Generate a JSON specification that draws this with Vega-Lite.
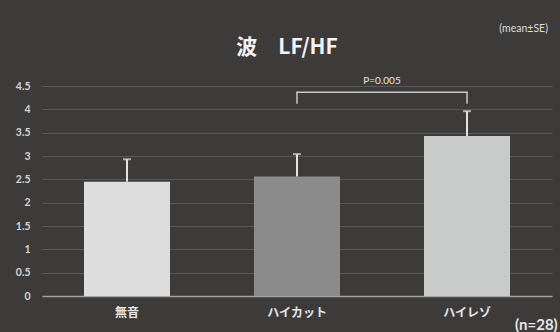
{
  "$schema": "https://vega.github.io/schema/vega-lite/v6.json",
  "width": 510,
  "height": 210,
  "autosize": "none",
  "padding": {"left": 42, "top": 86, "right": 8, "bottom": 36},
  "background": "#3d3b3a",
  "config": {
    "view": {"stroke": null},
    "axisY": {
      "title": null,
      "labelFont": "Lato",
      "labelFontSize": 10.5,
      "labelFontWeight": "bold",
      "labelColor": "#d2d2d2",
      "labelPadding": 12,
      "ticks": false,
      "domain": false,
      "gridColor": "#5a5857",
      "gridWidth": 1
    }
  },
  "datasets": {
    "bars": [
      {"group": "無音", "mean": 2.45, "upper": 2.93},
      {"group": "ハイカット", "mean": 2.56, "upper": 3.04},
      {"group": "ハイレゾ", "mean": 3.43, "upper": 3.96}
    ],
    "bracketH": [{"from": "ハイカット", "to": "ハイレゾ", "y": 4.365}],
    "bracketV": [
      {"group": "ハイカット", "y": 4.13, "y2": 4.365},
      {"group": "ハイレゾ", "y": 4.13, "y2": 4.365}
    ],
    "notes": [
      {"group": "ハイカット", "y": 4.6, "label": "P=0.005"}
    ],
    "titleText": [
      {"group": "ハイカット", "y": 5.31, "label": "波　LF/HF"}
    ],
    "corner": [
      {"group": "ハイレゾ", "y": 5.72, "label": "(mean±SE)"}
    ],
    "ncount": [
      {"group": "ハイレゾ", "y": -0.62, "label": "(n=28)"}
    ]
  },
  "encoding": {
    "x": {
      "field": "group",
      "type": "nominal",
      "sort": ["無音", "ハイカット", "ハイレゾ"],
      "scale": {"domain": ["無音", "ハイカット", "ハイレゾ"], "paddingInner": 0.494, "paddingOuter": 0.247},
      "axis": {
        "title": null,
        "labelAngle": 0,
        "labelFont": "Noto Sans CJK JP",
        "labelFontSize": 12,
        "labelFontWeight": "bold",
        "labelColor": "#e6e6e6",
        "labelPadding": 11,
        "ticks": false,
        "domainColor": "#a3a3a3",
        "domainWidth": 1.5,
        "grid": false
      }
    }
  },
  "layer": [
    {
      "data": {"name": "bars"},
      "mark": {"type": "bar", "width": 86},
      "encoding": {
        "y": {
          "field": "mean",
          "type": "quantitative",
          "scale": {"domain": [0, 4.5], "nice": false},
          "axis": {"title": null, "values": [0, 0.5, 1, 1.5, 2, 2.5, 3, 3.5, 4, 4.5], "format": "~g"}
        },
        "color": {
          "field": "group",
          "type": "nominal",
          "scale": {"domain": ["無音", "ハイカット", "ハイレゾ"], "range": ["#dcdddc", "#8b8b8b", "#c9cbca"]},
          "legend": null
        }
      }
    },
    {
      "data": {"name": "bars"},
      "mark": {"type": "rule", "color": "#e2e2e2", "strokeWidth": 2},
      "encoding": {
        "y": {"field": "mean", "type": "quantitative", "axis": {"title": null, "values": [0, 0.5, 1, 1.5, 2, 2.5, 3, 3.5, 4, 4.5], "format": "~g"}},
        "y2": {"field": "upper"}
      }
    },
    {
      "data": {"name": "bars"},
      "mark": {"type": "tick", "orient": "horizontal", "color": "#e2e2e2", "size": 8, "thickness": 2},
      "encoding": {
        "y": {"field": "upper", "type": "quantitative", "axis": {"title": null, "values": [0, 0.5, 1, 1.5, 2, 2.5, 3, 3.5, 4, 4.5], "format": "~g"}}
      }
    },
    {
      "data": {"name": "bracketH"},
      "mark": {"type": "rule", "color": "#c9c9c9", "strokeWidth": 1.5, "strokeCap": "round"},
      "encoding": {
        "x": {"field": "from", "type": "nominal"},
        "x2": {"field": "to"},
        "y": {"field": "y", "type": "quantitative", "axis": {"title": null, "values": [0, 0.5, 1, 1.5, 2, 2.5, 3, 3.5, 4, 4.5], "format": "~g"}}
      }
    },
    {
      "data": {"name": "bracketV"},
      "mark": {"type": "rule", "color": "#c9c9c9", "strokeWidth": 1.5, "strokeCap": "round"},
      "encoding": {
        "y": {"field": "y", "type": "quantitative", "axis": {"title": null, "values": [0, 0.5, 1, 1.5, 2, 2.5, 3, 3.5, 4, 4.5], "format": "~g"}},
        "y2": {"field": "y2"}
      }
    },
    {
      "data": {"name": "notes"},
      "mark": {"type": "text", "font": "Lato", "fontSize": 10, "color": "#e6e6e6", "dx": 85, "align": "center", "baseline": "middle"},
      "encoding": {
        "y": {"field": "y", "type": "quantitative", "axis": {"title": null, "values": [0, 0.5, 1, 1.5, 2, 2.5, 3, 3.5, 4, 4.5], "format": "~g"}},
        "text": {"field": "label"}
      }
    },
    {
      "data": {"name": "titleText"},
      "mark": {"type": "text", "font": "Noto Sans CJK JP", "fontSize": 21, "fontWeight": "bold", "color": "#f4f4f4", "dx": -10, "align": "center", "baseline": "middle"},
      "encoding": {
        "y": {"field": "y", "type": "quantitative", "axis": {"title": null, "values": [0, 0.5, 1, 1.5, 2, 2.5, 3, 3.5, 4, 4.5], "format": "~g"}},
        "text": {"field": "label"}
      }
    },
    {
      "data": {"name": "corner"},
      "mark": {"type": "text", "font": "Lato", "fontSize": 10.5, "color": "#dcdcdc", "dx": 81, "align": "right", "baseline": "middle"},
      "encoding": {
        "y": {"field": "y", "type": "quantitative", "axis": {"title": null, "values": [0, 0.5, 1, 1.5, 2, 2.5, 3, 3.5, 4, 4.5], "format": "~g"}},
        "text": {"field": "label"}
      }
    },
    {
      "data": {"name": "ncount"},
      "mark": {"type": "text", "font": "Lato", "fontSize": 15, "fontWeight": "bold", "color": "#e6e6e6", "dx": 48, "align": "left", "baseline": "middle"},
      "encoding": {
        "y": {"field": "y", "type": "quantitative", "axis": {"title": null, "values": [0, 0.5, 1, 1.5, 2, 2.5, 3, 3.5, 4, 4.5], "format": "~g"}},
        "text": {"field": "label"}
      }
    }
  ]
}
